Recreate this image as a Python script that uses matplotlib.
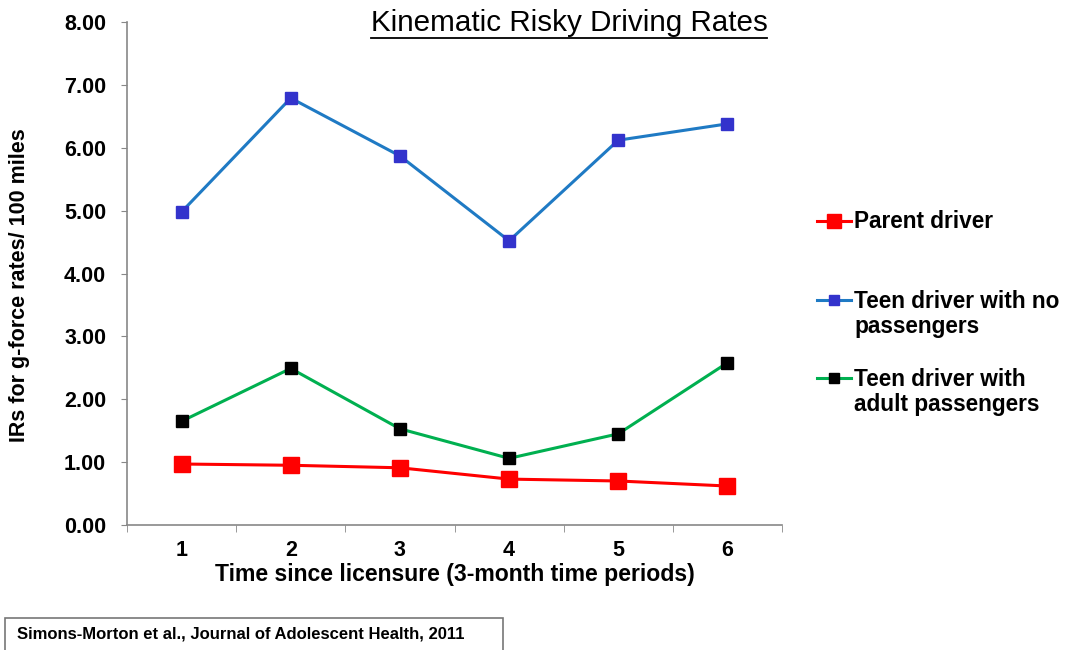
import matplotlib
matplotlib.use("Agg")
import matplotlib.pyplot as plt
import numpy as np
from matplotlib.lines import Line2D
from matplotlib.patches import Rectangle

plt.rcParams["font.family"] = ["Liberation Sans", "DejaVu Sans"]

periods = ["1", "2", "3", "4", "5", "6"]
parent = [0.97, 0.95, 0.91, 0.73, 0.70, 0.62]
teen_alone = [4.98, 6.79, 5.87, 4.52, 6.12, 6.38]
teen_adult = [1.65, 2.49, 1.53, 1.06, 1.45, 2.58]
series_labels = [["Parent driver"],
                 ["Teen driver with no", "passengers"],
                 ["Teen driver with", "adult passengers"]]
yticks = [0, 1, 2, 3, 4, 5, 6, 7, 8]

W, H = 1066, 650
fig = plt.figure(figsize=(W / 100, H / 100), dpi=100)
ax = fig.add_axes([127 / W, 1 - 525 / H, 655 / W, 503 / H])

x = np.arange(len(periods)) + 0.5
l1, = ax.plot(x, parent, color="#ff0000", lw=2.2, marker="s", ms=12,
              mfc="#ff0000", mec="#ff0000", zorder=3)
l2, = ax.plot(x, teen_alone, color="#1f7ac4", lw=2.2, marker="s", ms=9,
              mfc="#3333cc", mec="#3333cc", zorder=3)
l3, = ax.plot(x, teen_adult, color="#00b050", lw=2.2, marker="s", ms=9,
              mfc="black", mec="black", zorder=3)

ax.set_xlim(0, len(periods))
ax.set_ylim(0, 8)
ax.set_yticks(yticks)
ax.set_yticklabels([f"{v:.2f}" for v in yticks], fontsize=15.5, fontweight="bold")
ax.set_xticks(x)
ax.set_xticklabels(periods, fontsize=15.5, fontweight="bold")
ax.set_xticks(np.arange(len(periods) + 1), minor=True)
ax.tick_params(axis="x", which="major", length=0, pad=11)
ax.tick_params(axis="x", which="minor", length=5, color="#888888", direction="out")
ax.tick_params(axis="y", length=4, color="#888888", direction="out", pad=11)

for s in ("top", "right"):
    ax.spines[s].set_visible(False)
for s in ("left", "bottom"):
    ax.spines[s].set_color("#888888")
    ax.spines[s].set_linewidth(1.2)

ax.set_xlabel("Time since licensure (3-month time periods)", fontsize=16.6,
              fontweight="bold", labelpad=1)
fig.text(20 / W, 1 - 285 / H, "IRs for g-force rates/ 100 miles", fontsize=15.5,
         fontweight="bold", rotation=90, ha="center", va="center")

# legend: one block per series, handle level with the first text line
leg_font = {"weight": "bold", "size": 16.3}
leg_rows = [222, 301, 379]
extra = []
for line, lab, row in zip([l1, l2, l3], series_labels, leg_rows):
    lg = fig.legend([line], [lab[0]], loc="center left",
                    bbox_to_anchor=(806 / W, 1 - row / H), frameon=False,
                    borderpad=0, handlelength=1.5, handletextpad=0.12,
                    prop=leg_font, markerscale=0.85)
    extra.append((lg, lab[1:]))

title = fig.text(569 / W, 1 - 23 / H, "Kinematic Risky Driving Rates",
                 fontsize=21.3, ha="center", va="center")
fig.canvas.draw()
for lg, rest in extra:
    tb = lg.get_texts()[0].get_window_extent().transformed(fig.transFigure.inverted())
    for k, txt in enumerate(rest):
        fig.text(tb.x0, tb.y0 - (k + 1) * 26 / H + (tb.y1 - tb.y0) / 2, txt,
                 fontsize=16.3, fontweight="bold", va="center", ha="left")

bb = title.get_window_extent().transformed(fig.transFigure.inverted())
fig.add_artist(Line2D([bb.x0, bb.x1], [bb.y0 - 0.002, bb.y0 - 0.002],
                      color="black", lw=1.3, transform=fig.transFigure))

fig.add_artist(Rectangle((5 / W, -0.05), 498 / W, (H - 618) / H + 0.05,
                         transform=fig.transFigure,
                         fill=False, edgecolor="#777777", lw=1.2))
fig.text(17 / W, 1 - 634 / H, "Simons-Morton et al., Journal of Adolescent Health, 2011",
         fontsize=12, fontweight="bold", va="center")

fig.savefig("out.png", dpi=100)
